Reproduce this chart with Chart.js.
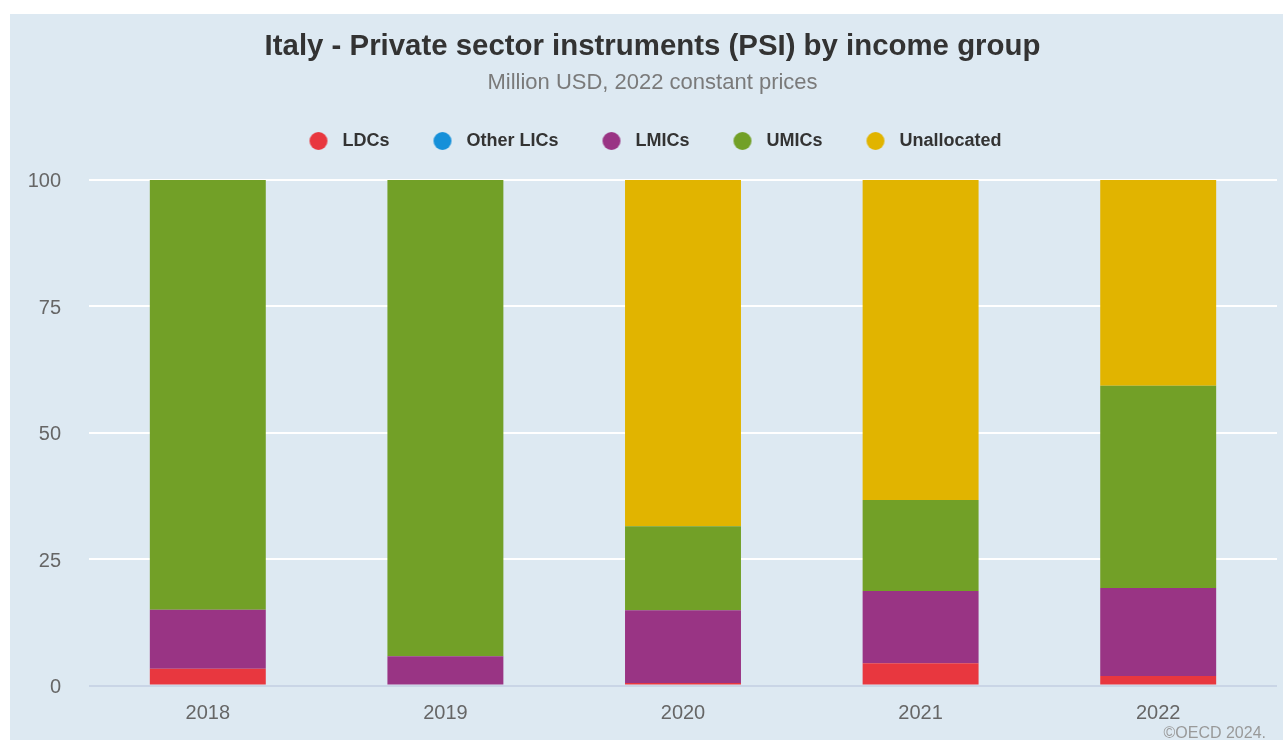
<!DOCTYPE html>
<html>
<head>
<meta charset="utf-8">
<title>Italy - Private sector instruments (PSI) by income group</title>
<script src="https://cdn.jsdelivr.net/npm/chart.js@4/dist/chart.umd.min.js"></script>
<style>
  html, body { margin: 0; padding: 0; background: #ffffff; overflow: hidden; width: 1283px; height: 740px; }
  #wrap { position: absolute; left: 10px; top: 14px; width: 1285px; height: 726px; background: #dde9f2; overflow: hidden; }
  #c { display: block; }
  #credit { position: absolute; right: 29px; top: 711px; font: 16px/16px 'Liberation Sans', Arial, sans-serif; color: #999999; white-space: nowrap; }
</style>
</head>
<body>
<div id="wrap">
  <canvas id="c" width="1285" height="726"></canvas>
  <div id="credit">©OECD 2024.</div>
</div>
<script>
// Categories and series (million USD, 2022 constant prices)
const years = ['2018', '2019', '2020', '2021', '2022'];
const ldcs        = [3.3, 0.0, 0.5, 4.4, 1.9];
const otherLics   = [0.0, 0.0, 0.0, 0.0, 0.0];
const lmics       = [11.7, 5.8, 14.4, 14.3, 17.4];
const umics       = [85.0, 94.2, 16.6, 18.0, 40.0];
const unallocated = [0.0, 0.0, 68.5, 63.3, 40.7];
const yTicks = [0, 25, 50, 75, 100];

const seriesNames  = ['LDCs', 'Other LICs', 'LMICs', 'UMICs', 'Unallocated'];
const seriesValues = [ldcs, otherLics, lmics, umics, unallocated];
const seriesColors = ['#e8373f', '#1690d9', '#993484', '#72a027', '#e1b400'];

const FONT = "'Liberation Sans', Arial, Helvetica, sans-serif";
Chart.defaults.font.family = FONT;

// Round legend marker, with a little room around it
function marker(color) {
  const c = document.createElement('canvas');
  c.width = 30; c.height = 18;
  const g = c.getContext('2d');
  g.fillStyle = color;
  g.beginPath();
  g.arc(15, 9, 9, 0, Math.PI * 2);
  g.fill();
  return c;
}
const markers = seriesColors.map(marker);

const datasets = seriesNames.map((name, i) => ({
  label: name,
  data: seriesValues[i],
  backgroundColor: seriesColors[i],
  borderWidth: 0,
  xAxisID: 'x',
  yAxisID: 'y',
  barPercentage: 0.488,
  categoryPercentage: 1.0
}));

new Chart(document.getElementById('c'), {
  type: 'bar',
  data: { labels: years, datasets },
  options: {
    responsive: false,
    animation: false,
    layout: { padding: { left: 18, right: 18, top: 0, bottom: 0 } },
    plugins: {
      tooltip: { enabled: false },
      title: {
        display: true,
        text: 'Italy - Private sector instruments (PSI) by income group',
        color: '#333333',
        font: { size: 29.4, weight: 'bold', family: FONT, lineHeight: 1.2 },
        padding: { top: 14.9, bottom: 7.8 }
      },
      subtitle: {
        display: true,
        text: 'Million USD, 2022 constant prices',
        color: '#7a7a7a',
        font: { size: 22, weight: 'normal', family: FONT, lineHeight: 1 },
        padding: { top: 0, bottom: 0 }
      },
      legend: {
        display: true,
        position: 'top',
        align: 'center',
        labels: {
          usePointStyle: true,
          pointStyleWidth: 30,
          boxHeight: 18,
          padding: 38,
          color: '#333333',
          font: { size: 18, weight: 'bold', family: FONT },
          generateLabels: chart =>
            Chart.defaults.plugins.legend.labels.generateLabels(chart)
              .map((item, i) => Object.assign(item, { pointStyle: markers[i] }))
        }
      }
    },
    scales: {
      x: {
        type: 'category',
        position: 'bottom',
        stacked: true,
        grid: { display: false, drawTicks: false },
        border: { display: false },
        ticks: { color: '#666666', font: { size: 20, family: FONT }, padding: 16.2, maxRotation: 0 },
        afterFit: s => { s.height = 54.5; }
      },
      y: {
        type: 'linear',
        position: 'left',
        stacked: true,
        min: 0,
        max: 100,
        afterBuildTicks: s => { s.ticks = yTicks.map(v => ({ value: v })); },
        afterFit: s => { s.width = 61; },
        grid: {
          drawTicks: false,
          color: c => (c.tick && c.tick.value === 0) ? '#c9d5e6' : '#ffffff',
          lineWidth: 2
        },
        border: { display: false },
        ticks: { color: '#666666', font: { size: 20, family: FONT }, padding: 28, labelOffset: 2 }
      },
      // empty band between the legend and the plot
      gap: {
        type: 'category',
        axis: 'x',
        position: 'top',
        grid: { display: false, drawTicks: false },
        border: { display: false },
        ticks: { display: false },
        afterFit: s => { s.height = 20; }
      }
    }
  }
});
</script>
</body>
</html>
